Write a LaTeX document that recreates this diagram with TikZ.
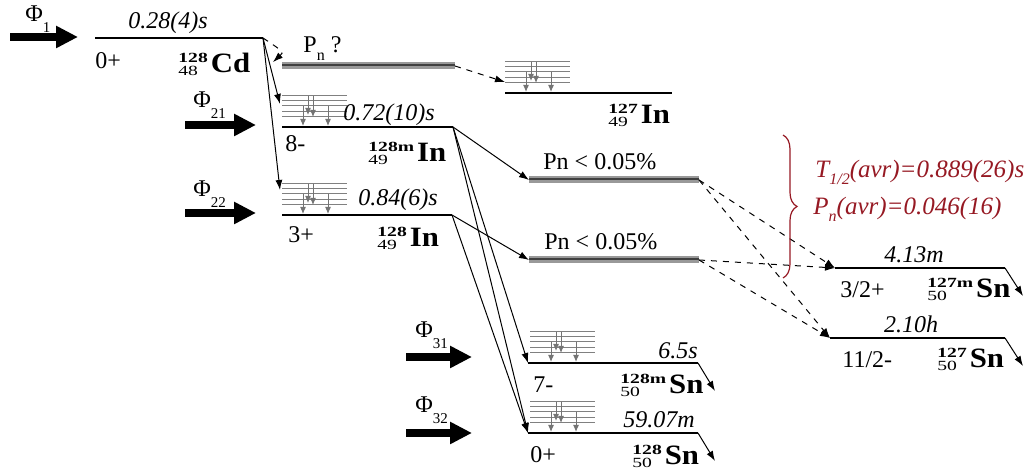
\documentclass[tikz,border=0pt]{standalone}
\usepackage{fontspec}
\setmainfont{Liberation Serif}
\usetikzlibrary{positioning, calc, arrows.meta, decorations.pathreplacing}
\definecolor{avrred}{RGB}{150,25,35}

% nuclide symbol with mass and charge numbers
\newcommand\nuc[3]{\raisebox{-1.3pt}{\scalebox{1.4}[1]{\fontsize{7}{7}\selectfont\begin{tabular}[b]{@{}l@{}}\textbf{#1}\\[-0.5pt]#2\end{tabular}}}\hspace{1.5pt}\scalebox{1.1}[1]{\fontsize{14}{15}\selectfont\bfseries #3}}
% beam label
\newcommand\phisub[1]{{\fontsize{12}{13}\selectfont Φ}\raisebox{-5.5pt}{\fontsize{7.5}{8}\selectfont #1}}
% grey ladder of excited states above a level
\newcommand\ladder[2]{%
  \begin{scope}[shift={(#1,#2)}]
    \foreach \dy in {10,15,21,26,31} {
      \draw[ladline] (0,-\dy) -- (65,-\dy);
    }
    \draw[ladarrow] (21,-21) -- (21,-1);
    \draw[ladarrow] (26,-31) -- (26,-12);
    \draw[ladarrow] (31,-31) -- (31,-10);
    \draw[ladarrow] (46,-21) -- (46,-1);
  \end{scope}}

\begin{document}
\begin{tikzpicture}[x=0.5pt, y=-0.5pt, >=Latex,
    every node/.style={font=\fontsize{12}{14}\selectfont, inner sep=0pt},
    level/.style={line width=0.6pt},
    band/.style={line width=3.5pt, black!40},
    bandcore/.style={line width=1.1pt, black!75},
    decay/.style={-{Latex[length=5pt,width=3.5pt]}, line width=0.5pt},
    ndecay/.style={decay, dashed},
    beam/.style={line width=4pt, -{Triangle[length=11pt,width=10.5pt]}},
    ladline/.style={black!50, line width=0.5pt},
    ladarrow/.style={black!55, line width=0.5pt, -{Latex[length=3.5pt,width=3pt]}},
    halflife/.style={font=\itshape\fontsize{12}{14}\selectfont},
    avr/.style={font=\itshape\fontsize{12.5}{15}\selectfont, text=avrred, anchor=base west}]

    \useasboundingbox (0,0) rectangle (1029,474);

    % Level end points
    \coordinate (cdL) at (95,38);    \coordinate (cdR) at (263,38);
    \coordinate (pnL) at (282,66);   \coordinate (pnR) at (455,66);
    \coordinate (inL) at (505,93);   \coordinate (inR) at (672,93);
    \coordinate (inmL) at (282,127); \coordinate (inmR) at (453,127);
    \coordinate (ingL) at (282,215); \coordinate (ingR) at (452,215);
    \coordinate (b1L) at (529,180);  \coordinate (b1R) at (699,180);
    \coordinate (b2L) at (529,260);  \coordinate (b2R) at (699,260);
    \coordinate (snmL) at (528,363); \coordinate (snmR) at (698,363);
    \coordinate (sngL) at (528,433); \coordinate (sngR) at (698,433);
    \coordinate (tmL) at (835,268);  \coordinate (tmR) at (1005,268);
    \coordinate (tgL) at (830,338);  \coordinate (tgR) at (1005,338);

    % Ladders of excited states
    \ladder{505}{93}
    \ladder{282}{127}
    \ladder{282}{215}
    \ladder{530}{363}
    \ladder{530}{433}

    % Levels
    \draw[level] (cdL) -- (cdR);
    \draw[level] (inL) -- (inR);
    \draw[level] (inmL) -- (inmR);
    \draw[level] (ingL) -- (ingR);
    \draw[level] (snmL) -- (snmR);
    \draw[level] (sngL) -- (sngR);
    \draw[level] (tmL) -- (tmR);
    \draw[level] (tgL) -- (tgR);

    % Neutron emitting bands
    \foreach \a/\b in {pnL/pnR, b1L/b1R, b2L/b2R} {
        \draw[band] (\a) -- (\b);
        \draw[bandcore] ($(\a)+(0,-1)$) -- ($(\b)+(0,-1)$);
    }

    % Beams
    \coordinate (phi1s) at (10,37);   \coordinate (phi1e) at (78,37);
    \coordinate (phi21s) at (185,125); \coordinate (phi21e) at (256,125);
    \coordinate (phi22s) at (185,213); \coordinate (phi22e) at (256,213);
    \coordinate (phi31s) at (406,357); \coordinate (phi31e) at (472,357);
    \coordinate (phi32s) at (406,433); \coordinate (phi32e) at (472,433);
    \draw[beam] (phi1s) -- (phi1e);
    \draw[beam] (phi21s) -- (phi21e);
    \draw[beam] (phi22s) -- (phi22e);
    \draw[beam] (phi31s) -- (phi31e);
    \draw[beam] (phi32s) -- (phi32e);
    \node[anchor=base west] (phi1) at (25,22) {\phisub{1}};
    \node[anchor=base west] (phi21) at (193,108) {\phisub{21}};
    \node[anchor=base west] (phi22) at (193,197) {\phisub{22}};
    \node[anchor=base west] (phi31) at (415,338) {\phisub{31}};
    \node[anchor=base west] (phi32) at (415,413) {\phisub{32}};

    % Decays
    \coordinate (inmT) at (280,104);
    \coordinate (ingT) at (280,190);
    \coordinate (pnT) at (273,62);
    \coordinate (inT) at (505,82);
    \draw[decay] (cdR) -- (inmT);
    \draw[decay] (cdR) -- (ingT);
    \draw[ndecay] (cdR) .. controls (284,52) .. (pnT);
    \draw[ndecay] (pnR) -- (inT);
    \draw[decay] (inmR) -- (b1L);
    \draw[decay] (ingR) -- (b2L);
    \draw[decay] (inmR) -- (snmL);
    \draw[decay] (inmR) -- (sngL);
    \draw[decay] (ingR) -- (sngL);
    \draw[ndecay] (b1R) -- (tmL);
    \draw[ndecay] (b1R) -- (tgL);
    \draw[ndecay] (b2R) -- (tmL);
    \draw[ndecay] (b2R) -- (tgL);
    \coordinate (snmX) at (715,391);
    \coordinate (sngX) at (715,461);
    \coordinate (tmX) at (1023,296);
    \coordinate (tgX) at (1023,366);
    \draw[decay] (snmR) -- (snmX);
    \draw[decay] (sngR) -- (sngX);
    \draw[decay] (tmR) -- (tmX);
    \draw[decay] (tgR) -- (tgX);

    % Half-lives
    \node[halflife, anchor=base] (tcd) at (168,29) {0.28(4)s};
    \node[halflife, anchor=base east] (tinm) at (435,121) {0.72(10)s};
    \node[halflife, anchor=base east] (ting) at (438,206) {0.84(6)s};
    \node[halflife, anchor=base east] (tsnm) at (698,359) {6.5s};
    \node[halflife, anchor=base east] (tsng) at (695,428) {59.07m};
    \node[halflife, anchor=base] (ttm) at (914,263) {4.13m};
    \node[halflife, anchor=base] (ttg) at (911,333) {2.10h};

    % Spins
    \node[anchor=base west] (jcd) at (95,69) {0+};
    \node[anchor=base west] (jinm) at (285,152) {8-};
    \node[anchor=base west] (jing) at (288,243) {3+};
    \node[anchor=base west] (jsnm) at (533,393) {7-};
    \node[anchor=base west] (jsng) at (530,463) {0+};
    \node[anchor=base west] (jtm) at (840,298) {3/2+};
    \node[anchor=base west] (jtg) at (842,368) {11/2-};

    % Nuclides
    \node[anchor=base west] (ncd) at (178,73) {\nuc{128}{48}{Cd}};
    \node[anchor=base west] (nin) at (608,124) {\nuc{127}{49}{In}};
    \node[anchor=base west] (ninm) at (368,162) {\nuc{128m}{49}{In}};
    \node[anchor=base west] (ning) at (377,247) {\nuc{128}{49}{In}};
    \node[anchor=base west] (nsnm) at (620,394) {\nuc{128m}{50}{Sn}};
    \node[anchor=base west] (nsng) at (632,465) {\nuc{128}{50}{Sn}};
    \node[anchor=base west] (ntm) at (927,298) {\nuc{127m}{50}{Sn}};
    \node[anchor=base west] (ntg) at (937,368) {\nuc{127}{50}{Sn}};

    % Neutron branches
    \node[anchor=base west] (pnq) at (303,53) {P\raisebox{-4pt}{\fontsize{8}{8}\selectfont n} ?};
    \node[anchor=base west] (pn1) at (543,170) {Pn < 0.05\%};
    \node[anchor=base west] (pn2) at (544,250) {Pn < 0.05\%};

    % Averages
    \coordinate (brT) at (783,135);
    \coordinate (brB) at (783,278);
    \draw[avrred, line width=0.6pt, decorate, decoration={brace, amplitude=7pt}] (brT) -- (brB);
    \node[avr] (tavr) at (815,178) {T\raisebox{-3.5pt}{\fontsize{8}{8}\selectfont 1/2}(avr)=0.889(26)s};
    \node[avr] (pavr) at (813,215) {P\raisebox{-3.5pt}{\fontsize{8}{8}\selectfont n}(avr)=0.046(16)};

\end{tikzpicture}
\end{document}
